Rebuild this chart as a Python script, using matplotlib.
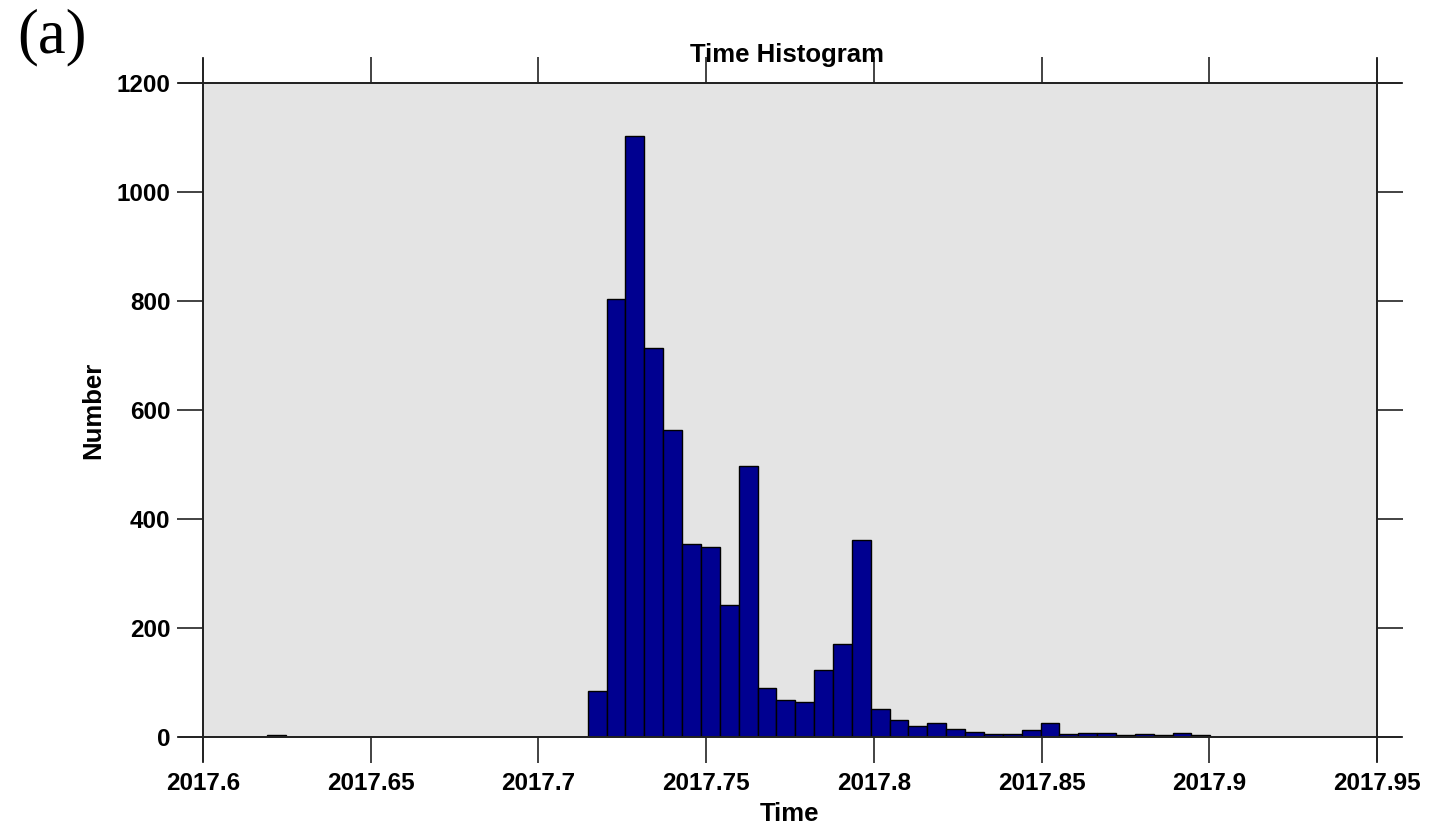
import numpy as np
import matplotlib
matplotlib.use("Agg")
import matplotlib.pyplot as plt
from matplotlib.lines import Line2D

# Histogram: 50 equal bins between first and last event time
bin_start = 2017.6191
bin_end = 2017.9003
counts = [3, 0, 0, 0, 0, 0, 0, 0, 0, 0,
          0, 0, 0, 0, 0, 0, 0, 84, 803, 1103,
          714, 564, 354, 348, 242, 498, 89, 68, 65, 123,
          170, 362, 52, 31, 20, 26, 15, 10, 5, 5,
          13, 26, 5, 8, 8, 3, 5, 3, 7, 3]
x_ticks = [2017.6, 2017.65, 2017.7, 2017.75, 2017.8, 2017.85, 2017.9, 2017.95]
x_ticklabels = ["2017.6", "2017.65", "2017.7", "2017.75", "2017.8", "2017.85", "2017.9", "2017.95"]
y_ticks = [0, 200, 400, 600, 800, 1000, 1200]

edges = np.linspace(bin_start, bin_end, len(counts) + 1)

plt.rcParams['font.family'] = ['Liberation Sans', 'DejaVu Sans']
fig = plt.figure(figsize=(14.29, 8.32), dpi=100)
ax = fig.add_axes([203/1429, 1 - 737/832, (1377-203)/1429, (737-83)/832])
ax.set_facecolor('#e4e4e4')

ax.bar(edges[:-1], counts, width=np.diff(edges), align='edge',
       color='#000090', edgecolor='black', linewidth=1.0, zorder=2)

ax.set_xlim(2017.6, 2017.95)
ax.set_ylim(0, 1200)
ax.set_xticks(x_ticks)
ax.set_xticklabels(x_ticklabels)
ax.set_yticks(y_ticks)

for s in ax.spines.values():
    s.set_linewidth(1.3)
    s.set_color('#222222')

ax.tick_params(axis='both', which='both', direction='out', length=18.5, width=1.2,
               color='#222222', top=True, right=True, labelsize=17.5, pad=5)
ax.tick_params(axis='x', pad=6.5)
for lab in ax.get_xticklabels() + ax.get_yticklabels():
    lab.set_fontweight('bold')

# extend frame lines beyond corners like the original
ext_x = 24 / (1377 - 203)
ext_y = 24 / (737 - 83)
for y in (0, 1):
    ax.add_line(Line2D([-ext_x, 1 + ext_x], [y, y], transform=ax.transAxes,
                       color='#222222', lw=1.3, clip_on=False))
for x in (0, 1):
    ax.add_line(Line2D([x, x], [-ext_y, 1 + ext_y], transform=ax.transAxes,
                       color='#222222', lw=1.3, clip_on=False))

ax.set_xlabel('Time', fontsize=18.5, fontweight='bold', labelpad=5)
ax.set_ylabel('Number', fontsize=18.5, fontweight='bold', labelpad=8)
fig.text(787/1429, 1 - 55/832, 'Time Histogram', fontsize=18.5, fontweight='bold',
         ha='center', va='center')
fig.text(17/1429, 1 - 37/832, '(a)', fontsize=45, family=['Liberation Serif'],
         ha='left', va='center')

fig.savefig('out.png', dpi=100)
